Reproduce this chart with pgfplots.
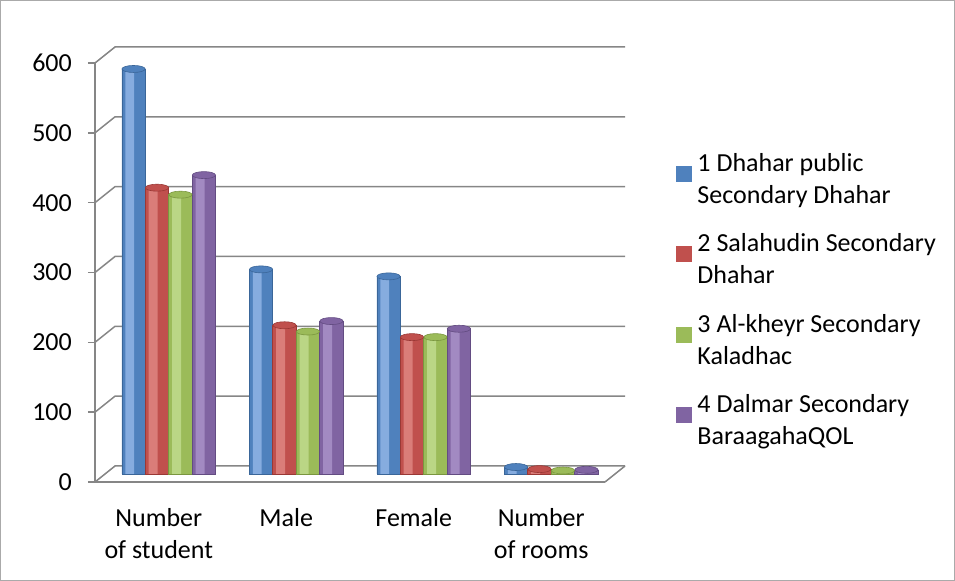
\documentclass[border=0pt]{standalone}
\usepackage{pgfplots}
\usepackage{pgfplotstable}
\pgfplotsset{compat=1.18}
\usepackage{fontspec}
\setmainfont{Carlito}
\definecolor{gridc}{RGB}{134,134,134}
\definecolor{bm}{HTML}{4F81BD}\definecolor{bl}{HTML}{86ACDF}\definecolor{bd}{HTML}{3A6699}
\definecolor{rm}{HTML}{C0504D}\definecolor{rl}{HTML}{DA7D79}\definecolor{rd}{HTML}{9A3835}
\definecolor{gm}{HTML}{9BBB59}\definecolor{gl}{HTML}{BAD685}\definecolor{gd}{HTML}{7A963F}
\definecolor{pm}{HTML}{8064A2}\definecolor{pl}{HTML}{A28AC2}\definecolor{pd}{HTML}{634C82}
\pgfdeclareplotmark{cyltop}{\pgfpathellipse{\pgfpointorigin}{\pgfqpoint{11.6bp}{0pt}}{\pgfqpoint{0pt}{3.5bp}}\pgfusepathqfillstroke}
\pgfplotstableread{
x    s1  s2  s3  s4
0.5  580 410 400 428
1.5  293 213 204 219
2.5  283 196 196 208
3.5  10  7   5   6
}\datatable
\begin{document}
\begin{tikzpicture}
\useasboundingbox (0,0) rectangle (955bp,581bp);
\draw[gridc!70, line width=1bp] (0.5bp,0.5bp) rectangle (954.5bp,580.5bp);
\begin{axis}[
  at={(95bp,99bp)}, anchor=south west,
  scale only axis, width=510bp, height=419bp,
  xmin=0, xmax=4, ymin=0, ymax=600,
  clip=false,
  font=\fontsize{26bp}{32bp}\selectfont,
  /pgf/number format/assume math mode=true,
  axis x line*=bottom, axis y line*=left,
  axis line style={gridc, line width=1.5bp, -},
  xtick={0.5,1.5,2.5,3.5},
  xticklabels={Number\\of student, Male, Female, Number\\of rooms},
  xticklabel style={align=center, anchor=north, inner sep=0pt, yshift=-19bp},
  x tick style={draw=none},
  extra x ticks={0,1,2,3,4}, extra x tick labels={},
  extra x tick style={tick align=outside, major tick length=8bp, tick style={draw=gridc, line width=1.5bp}},
  ytick={0,100,...,600},
  y tick style={gridc, line width=1.5bp},
  tick align=outside, major tick length=7bp,
  yticklabel style={anchor=east, inner sep=0pt, xshift=-16bp},
  legend style={at={(1.139,0.790)}, anchor=north west, draw=none, fill=none, inner sep=0pt,
    row sep=25bp, cells={anchor=west, align=left}},
  base/.style={ybar, bar width=0.184, line width=0.6bp, xshift=10bp, yshift=8bp, forget plot},
  hl/.style={ybar, bar width=0.07, draw=none, xshift=10bp, yshift=8bp, forget plot, mark=cyltop},
]
\pgfplotsinvokeforeach{0,100,...,600}{
  \draw[gridc, line width=1.5bp] (axis cs:0,#1) -- ([shift={(20bp,16bp)}]axis cs:0,#1) -- ([shift={(20bp,16bp)}]axis cs:4,#1);
}
\draw[gridc, line width=1.5bp] (axis cs:4,0) -- ([shift={(20bp,16bp)}]axis cs:4,0);

\addplot[base, bar shift=-0.276, fill=bm, draw=bd] table[x=x, y=s1] {\datatable};
\addplot[hl, bar shift=-0.306, fill=bl, mark options={xshift=-35.19bp, fill=bm, draw=bd, line width=0.6bp}] table[x=x, y=s1] {\datatable};
\addplot[base, bar shift=-0.092, fill=rm, draw=rd] table[x=x, y=s2] {\datatable};
\addplot[hl, bar shift=-0.122, fill=rl, mark options={xshift=-11.73bp, fill=rm, draw=rd, line width=0.6bp}] table[x=x, y=s2] {\datatable};
\addplot[base, bar shift=0.092, fill=gm, draw=gd] table[x=x, y=s3] {\datatable};
\addplot[hl, bar shift=0.062, fill=gl, mark options={xshift=11.73bp, fill=gm, draw=gd, line width=0.6bp}] table[x=x, y=s3] {\datatable};
\addplot[base, bar shift=0.276, fill=pm, draw=pd] table[x=x, y=s4] {\datatable};
\addplot[hl, bar shift=0.246, fill=pl, mark options={xshift=35.19bp, fill=pm, draw=pd, line width=0.6bp}] table[x=x, y=s4] {\datatable};

\addlegendimage{legend image code/.code={\fill[bm] (0bp,-2bp) rectangle (15bp,13bp); \path (19bp,0bp);}}
\addlegendentry{1 Dhahar public\\Secondary Dhahar}
\addlegendimage{legend image code/.code={\fill[rm] (0bp,-2bp) rectangle (15bp,13bp); \path (19bp,0bp);}}
\addlegendentry{2 Salahudin Secondary\\Dhahar}
\addlegendimage{legend image code/.code={\fill[gm] (0bp,-2bp) rectangle (15bp,13bp); \path (19bp,0bp);}}
\addlegendentry{3 Al-kheyr Secondary\\Kaladhac}
\addlegendimage{legend image code/.code={\fill[pm] (0bp,-2bp) rectangle (15bp,13bp); \path (19bp,0bp);}}
\addlegendentry{4 Dalmar Secondary\\BaraagahaQOL}
\end{axis}
\end{tikzpicture}
\end{document}
